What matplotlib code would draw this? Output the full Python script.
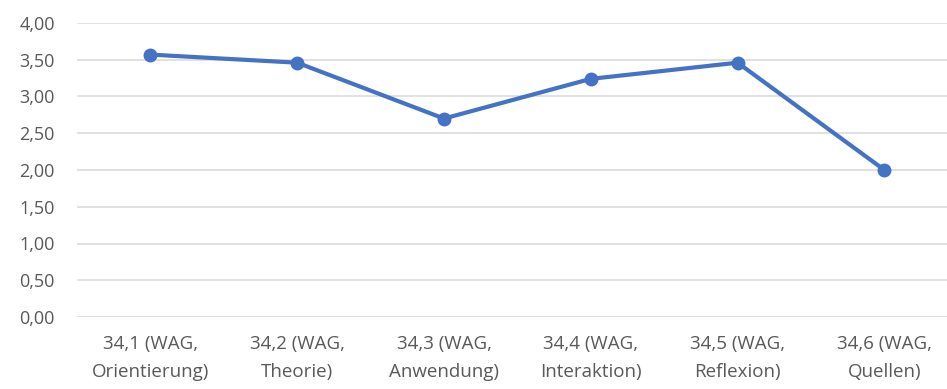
import matplotlib
matplotlib.use("Agg")
import matplotlib.pyplot as plt

categories = ["34,1 (WAG,\nOrientierung)", "34,2 (WAG,\nTheorie)", "34,3 (WAG,\nAnwendung)",
              "34,4 (WAG,\nInteraktion)", "34,5 (WAG,\nReflexion)", "34,6 (WAG,\nQuellen)"]
values = [3.57, 3.46, 2.70, 3.24, 3.46, 2.00]
yticks = [0, 0.5, 1, 1.5, 2, 2.5, 3, 3.5, 4]

plt.rcParams['font.family'] = ['Open Sans', 'DejaVu Sans']

fig = plt.figure(figsize=(9.47, 3.89), dpi=100)
ax = fig.add_axes([77 / 947, 1 - 317 / 389, 870 / 947, 294 / 389])
x = list(range(len(categories)))
ax.plot(x, values, color="#4472C4", linewidth=3.0, marker="o", markersize=9,
        solid_capstyle="round", clip_on=False, zorder=3)
ax.set_xlim(-0.5, -0.5 + 870 / 146.8)
ax.set_ylim(0, 4)
ax.set_yticks(yticks)
ax.set_yticklabels([f"{v:.2f}".replace(".", ",") for v in yticks])
ax.set_xticks(x)
ax.set_xticklabels(categories, linespacing=1.7)
ax.grid(axis="y", color="#D9D9D9", linewidth=1.1)
ax.set_axisbelow(True)
for s in ax.spines.values():
    s.set_visible(False)
ax.tick_params(length=0, colors="#595959")
ax.tick_params(axis="y", labelsize=13, pad=16)
ax.tick_params(axis="x", labelsize=13.5, pad=13)
fig.savefig("out.png", dpi=100)
